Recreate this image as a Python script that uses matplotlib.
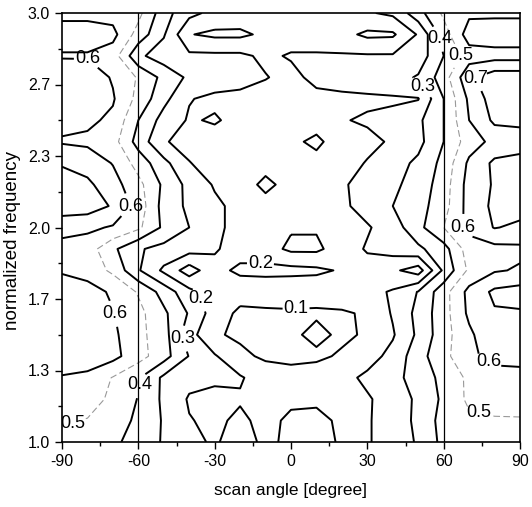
import numpy as np
import matplotlib
matplotlib.use("Agg")
import matplotlib.pyplot as plt

plt.rcParams['font.family'] = ['Liberation Sans', 'DejaVu Sans']
plt.rcParams['axes.unicode_minus'] = False

# scan angle grid [degree]
angles = [-90, -80, -70, -60, -50, -40, -30, -20, -10, 0, 10, 20, 30, 40, 50, 60, 70, 80, 90]
# normalized frequency grid, top to bottom
freqs = [3.0, 2.9, 2.8, 2.7, 2.6, 2.5, 2.4, 2.3, 2.2, 2.1, 2.0,
         1.9, 1.8, 1.7, 1.6, 1.5, 1.4, 1.3, 1.2, 1.1, 1.0]

f30 = [.57, .57, .56, .53, .34, .23, .17, .16, .15, .15, .16, .17, .19, .22, .36, .52, .58, .58, .58]
f29 = [.65, .65, .63, .46, .31, .105, .08, .08, .12, .15, .15, .13, .08, .085, .21, .45, .65, .66, .66]
f28 = [.59, .59, .55, .32, .25, .22, .22, .22, .18, .21, .21, .21, .21, .21, .24, .40, .55, .56, .56]
f27 = [.67, .66, .59, .49, .37, .28, .25, .24, .205, .17, .23, .24, .25, .26, .31, .45, .68, .76, .76]
f26 = [.66, .65, .61, .47, .33, .205, .18, .17, .16, .15, .17, .18, .185, .19, .195, .40, .62, .75, .75]
f25 = [.63, .62, .58, .40, .26, .19, .21, .17, .15, .13, .14, .195, .21, .22, .28, .40, .60, .72, .72]
f24 = [.59, .58, .54, .36, .21, .16, .16, .14, .13, .12, .08, .15, .18, .21, .27, .40, .55, .63, .66]
f23 = [.69, .66, .595, .46, .33, .205, .15, .14, .13, .13, .13, .17, .205, .26, .32, .43, .62, .72, .73]
f22 = [.75, .72, .64, .53, .38, .27, .19, .14, .08, .13, .13, .19, .23, .28, .34, .45, .64, .71, .75]
f21 = [.76, .75, .69, .56, .36, .28, .22, .17, .13, .13, .12, .18, .24, .30, .36, .46, .64, .72, .74]
f20 = [.63, .62, .59, .52, .38, .30, .22, .17, .14, .11, .11, .16, .19, .25, .37, .50, .63, .705, .68]
f19 = [.57, .55, .42, .31, .27, .24, .21, .16, .14, .08, .08, .15, .21, .24, .28, .36, .55, .57, .58]
f18 = [.59, .56, .48, .31, .18, .05, .17, .22, .23, .23, .22, .19, .16, .12, .05, .32, .52, .59, .61]
f17 = [.65, .64, .585, .49, .36, .23, .15, .14, .13, .12, .13, .15, .17, .21, .305, .46, .63, .72, .74]
f16 = [.68, .67, .605, .53, .42, .29, .15, .08, .09, .095, .09, .09, .11, .21, .33, .46, .62, .69, .69]
f15 = [.69, .68, .62, .53, .44, .24, .11, .085, .08, .085, .12, .085, .11, .19, .32, .46, .58, .68, .68]
f14 = [.68, .67, .63, .54, .44, .295, .21, .12, .085, .08, .085, .11, .16, .23, .36, .47, .58, .63, .63]
f13 = [.59, .57, .495, .41, .28, .23, .22, .21, .15, .13, .14, .17, .22, .27, .34, .43, .52, .56, .57]
f12 = [.56, .54, .48, .395, .28, .19, .17, .19, .17, .18, .18, .17, .19, .24, .32, .42, .52, .54, .55]
f11 = [.51, .495, .45, .38, .29, .205, .18, .22, .17, .22, .23, .18, .19, .25, .32, .44, .48, .49, .49]
f10 = [.48, .47, .42, .36, .29, .22, .19, .24, .18, .22, .23, .19, .19, .25, .31, .43, .47, .48, .48]

levels = [0.1, 0.2, 0.3, 0.4, 0.5, 0.6, 0.7]

# where the contour values are written on the lines
label_pos = [(-80, 2.79), (-63, 2.1), (-69, 1.6), (-85, 1.07), (-62, 1.27),
             (-43, 1.48), (-35, 1.67), (-12, 1.84), (2, 1.62), (52.5, 2.665),
             (58, 2.88), (69, 2.81), (72, 2.69), (66, 2.0), (77, 1.36), (74, 1.15)]

xticks = [-90, -60, -30, 0, 30, 60, 90]
yticks = [1.0, 4 / 3, 5 / 3, 2.0, 7 / 3, 8 / 3, 3.0]
ytick_labels = ['1.0', '1.3', '1.7', '2.0', '2.3', '2.7', '3.0']

grid = np.array([f30, f29, f28, f27, f26, f25, f24, f23, f22, f21, f20,
                 f19, f18, f17, f16, f15, f14, f13, f12, f11, f10])

fig = plt.figure(figsize=(5.32, 5.07), dpi=100)
ax = fig.add_axes([62 / 532, 1 - 442 / 507, 458 / 532, 429 / 507])

# 0.5 is drawn as a thin grey dashed line, the rest solid black
colors = ['k' if lv != 0.5 else '0.6' for lv in levels]
widths = [1.4 if lv != 0.5 else 0.8 for lv in levels]
styles = ['solid' if lv != 0.5 else (0, (6, 3)) for lv in levels]
cs = ax.contour(angles, freqs, grid, levels=levels, colors=colors,
                linewidths=widths, linestyles=styles)
texts = ax.clabel(cs, fmt='%.1f', fontsize=13, inline=True, inline_spacing=1,
                  manual=label_pos, colors='k')
for t in texts:
    t.set_rotation(0)

ax.axvline(-60, color='k', lw=0.9)
ax.axvline(60, color='k', lw=0.9)

ax.set_xlim(-90, 90)
ax.set_ylim(1.0, 3.0)
ax.set_xticks(xticks)
ax.set_xticks(np.arange(-75, 90, 30), minor=True)
ax.set_yticks(yticks)
ax.set_yticklabels(ytick_labels)
ax.set_yticks([7 / 6, 9 / 6, 11 / 6, 13 / 6, 15 / 6, 17 / 6], minor=True)
ax.tick_params(which='major', direction='out', length=5, width=1, labelsize=11.5)
ax.tick_params(which='minor', direction='out', length=3, width=1)
for s in ax.spines.values():
    s.set_linewidth(1.2)

ax.set_xlabel('scan angle [degree]', fontsize=12.5, labelpad=10)
ax.set_ylabel('normalized frequency', fontsize=13.5)
ax.yaxis.set_label_coords(-0.09, 0.47)

fig.savefig('out.png', dpi=100)
